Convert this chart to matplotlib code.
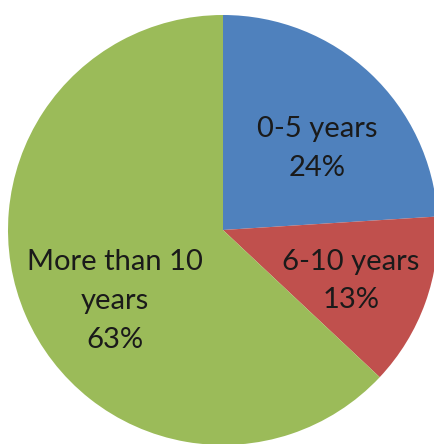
import numpy as np
import matplotlib
matplotlib.use('Agg')
from matplotlib import pyplot as plt

labels = ['0-5 years', '6-10 years', 'More than 10\nyears']
shares = [24, 13, 63]
colors = ['#4F81BD', '#C0504D', '#9BBB59']

# label placement: distance from centre and angle shift (degrees) per slice
label_dist = [0.58, 0.64, 0.60]
label_shift = [-6, -2, 10]

W, H = 434, 444
cx, cy, r = 223, 230, 215   # pie centre and radius in pixels

fig = plt.figure(figsize=(W / 100, H / 100), dpi=100)
ax = fig.add_axes([0, 0, 1, 1])

wedges, _ = ax.pie(shares, colors=colors, startangle=90, counterclock=False,
                   radius=1, wedgeprops=dict(linewidth=0))

for w, lab, s, d, sh in zip(wedges, labels, shares, label_dist, label_shift):
    ang = np.deg2rad((w.theta1 + w.theta2) / 2 + sh)
    ax.text(d * np.cos(ang), d * np.sin(ang), '%s\n%d%%' % (lab, s),
            ha='center', va='center', fontsize=21, family='Lato',
            color='#1a1a1a', linespacing=1.6)

ax.set_xlim(-cx / r, (W - cx) / r)
ax.set_ylim(-(H - cy) / r, cy / r)
ax.set_aspect('auto')
ax.axis('off')

fig.savefig('out.png', dpi=100)
